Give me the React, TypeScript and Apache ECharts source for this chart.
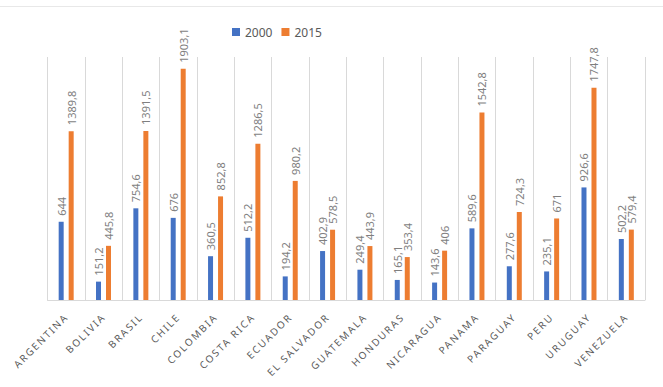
import React, { useEffect, useRef } from "react";
import * as echarts from "echarts";

const countries = [
  "ARGENTINA", "BOLIVIA", "BRASIL", "CHILE", "COLOMBIA", "COSTA RICA", "ECUADOR", "EL SALVADOR",
  "GUATEMALA", "HONDURAS", "NICARAGUA", "PANAMA", "PARAGUAY", "PERU", "URUGUAY", "VENEZUELA",
];
const values2000 = [644, 151.2, 754.6, 676, 360.5, 512.2, 194.2, 402.9, 249.4, 165.1, 143.6, 589.6, 277.6, 235.1, 926.6, 502.2];
const values2015 = [1389.8, 445.8, 1391.5, 1903.1, 852.8, 1286.5, 980.2, 578.5, 443.9, 353.4, 406, 1542.8, 724.3, 671, 1747.8, 579.4];
const seriesNames = ["2000", "2015"];
const seriesColors = ["#4472C4", "#ED7D31"];

const FONT = "'Noto Sans', 'Liberation Sans', sans-serif";

// values use a decimal comma
const fmt = (v: number) => String(v).replace(".", ",");

export default function App() {
  const ref = useRef<HTMLDivElement>(null);

  useEffect(() => {
    document.body.style.margin = "0";
    const el = ref.current;
    if (!el) return;
    const chart = echarts.init(el, undefined, { renderer: "svg" });

    const valueLabel = {
      show: true,
      position: "top" as const,
      rotate: 90,
      align: "left" as const,
      verticalAlign: "middle" as const,
      distance: 6,
      color: "#7f7f7f",
      fontSize: 11,
      fontFamily: FONT,
      formatter: (p: any) => fmt(p.value),
    };

    // spaced-out capitals on the category labels
    const spaceLabels = () => {
      el.querySelectorAll("text").forEach((t) => {
        const s = (t.textContent || "").trim();
        if (countries.indexOf(s) >= 0) {
          t.setAttribute("letter-spacing", "1.8px");
        }
      });
    };

    chart.setOption({
      animation: false,
      backgroundColor: "#ffffff",
      graphic: [
        {
          type: "line",
          shape: { x1: 0, y1: 6.5, x2: 663, y2: 6.5 },
          style: { stroke: "#e8e8e8", lineWidth: 1 },
          silent: true,
        },
      ],
      legend: {
        data: seriesNames,
        top: 21,
        left: 227,
        itemWidth: 8,
        itemHeight: 8,
        itemGap: 9,
        icon: "rect",
        textStyle: { color: "#595959", fontSize: 12, fontFamily: FONT },
      },
      grid: { left: 47.5, right: 18, top: 57, bottom: 87 },
      xAxis: {
        type: "category",
        data: countries,
        axisLine: { show: true, lineStyle: { color: "#d9d9d9" } },
        axisTick: { show: false },
        splitLine: { show: true, lineStyle: { color: "#d9d9d9" } },
        axisLabel: {
          rotate: 45,
          interval: 0,
          margin: 15,
          color: "#595959",
          fontSize: 10,
          fontFamily: FONT,
        },
      },
      yAxis: {
        type: "value",
        min: 0,
        max: 2000,
        show: false,
        splitLine: { show: false },
      },
      series: [
        {
          name: seriesNames[0],
          type: "bar",
          data: values2000,
          barWidth: 5,
          barGap: "100%",
          itemStyle: { color: seriesColors[0] },
          label: valueLabel,
        },
        {
          name: seriesNames[1],
          type: "bar",
          data: values2015,
          barWidth: 5,
          barGap: "100%",
          itemStyle: { color: seriesColors[1] },
          label: valueLabel,
        },
      ],
    });
    spaceLabels();
    const timer = window.setTimeout(spaceLabels, 0);
    const raf = window.requestAnimationFrame(spaceLabels);

    return () => {
      window.clearTimeout(timer);
      window.cancelAnimationFrame(raf);
      chart.dispose();
    };
  }, []);

  return <div ref={ref} style={{ width: 663, height: 387 }} />;
}
